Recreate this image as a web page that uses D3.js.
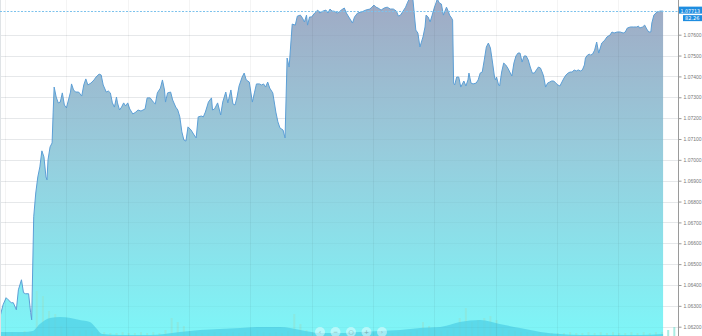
<!DOCTYPE html>
<html>
<head>
<meta charset="utf-8">
<script src="https://cdn.jsdelivr.net/npm/d3@7"></script>
<style>
  html, body { margin: 0; padding: 0; background: #fff; }
  svg { display: block; font-family: "DejaVu Sans", sans-serif; }
</style>
</head>
<body>
<svg id="chart"></svg>
<script>
// price series: [minutes since start, price]
const priceSeries = [
  [0,1.06248],[3,1.06305],[6,1.06339],[8,1.06329],[11,1.06315],[13,1.06315],[16,1.06281],[18,1.06377],[21,1.06425],[23,1.06363],
  [25,1.06358],[28,1.06358],[30,1.06267],[31,1.06233],[33,1.06727],[35,1.06841],[37,1.06918],[39,1.06966],[41,1.07043],[43,1.07014],
  [45,1.06918],[46,1.06904],[47,1.07000],[49,1.07062],[51,1.07081],[52,1.07225],[53,1.07349],[55,1.07301],[57,1.07273],[59,1.07277],
  [61,1.07321],[63,1.07263],[65,1.07249],[67,1.07287],[69,1.07325],[70,1.07364],[72,1.07335],[74,1.07325],[77,1.07325],[80,1.07306],
  [82,1.07359],[84,1.07388],[86,1.07359],[89,1.07368],[92,1.07383],[94,1.07397],[97,1.07411],[99,1.07407],[101,1.07359],[104,1.07325],
  [106,1.07330],[108,1.07321],[110,1.07273],[112,1.07253],[114,1.07301],[115,1.07273],[117,1.07239],[119,1.07253],[121,1.07273],[123,1.07258],
  [125,1.07273],[127,1.07244],[130,1.07220],[133,1.07229],[135,1.07239],[138,1.07234],[142,1.07244],[144,1.07297],[147,1.07297],[150,1.07277],
  [152,1.07268],[154,1.07321],[157,1.07344],[159,1.07383],[161,1.07335],[162,1.07277],[164,1.07321],[167,1.07325],[169,1.07287],[172,1.07253],
  [174,1.07239],[176,1.07206],[178,1.07134],[180,1.07095],[182,1.07090],[184,1.07158],[187,1.07143],[190,1.07119],[192,1.07105],[194,1.07206],
  [197,1.07210],[199,1.07206],[201,1.07229],[204,1.07277],[207,1.07297],[208,1.07239],[210,1.07244],[213,1.07273],[216,1.07215],[218,1.07277],
  [221,1.07325],[223,1.07273],[226,1.07335],[228,1.07268],[230,1.07263],[232,1.07301],[234,1.07354],[237,1.07397],[239,1.07416],[241,1.07383],
  [244,1.07373],[247,1.07277],[249,1.07321],[251,1.07364],[254,1.07364],[256,1.07359],[258,1.07364],[260,1.07349],[262,1.07373],[264,1.07344],
  [267,1.07321],[270,1.07229],[272,1.07182],[274,1.07153],[277,1.07143],[279,1.07105],[281,1.07488],[283,1.07445],[286,1.07651],[289,1.07646],
  [291,1.07689],[294,1.07694],[296,1.07680],[298,1.07661],[300,1.07694],[301,1.07646],[303,1.07685],[305,1.07685],[308,1.07704],[311,1.07718],
  [313,1.07704],[316,1.07713],[319,1.07718],[321,1.07704],[323,1.07723],[325,1.07713],[327,1.07713],[330,1.07704],[332,1.07709],[334,1.07718],
  [337,1.07728],[339,1.07704],[342,1.07680],[345,1.07656],[347,1.07685],[350,1.07704],[354,1.07709],[358,1.07718],[362,1.07723],[364,1.07732],
  [366,1.07742],[368,1.07732],[370,1.07728],[373,1.07718],[376,1.07728],[379,1.07732],[382,1.07723],[385,1.07723],[388,1.07713],[390,1.07689],
  [392,1.07694],[394,1.07709],[397,1.07732],[399,1.07756],[401,1.07776],[404,1.07776],[407,1.07622],[409,1.07608],[411,1.07541],[414,1.07589],
  [416,1.07637],[417,1.07694],[419,1.07685],[421,1.07661],[423,1.07694],[425,1.07728],[427,1.07756],[428,1.07771],[430,1.07752],[432,1.07747],
  [434,1.07694],[437,1.07732],[439,1.07709],[440,1.07694],[442,1.07680],[443,1.07670],[444,1.07368],[445,1.07359],[447,1.07397],[449,1.07397],
  [451,1.07349],[453,1.07368],[454,1.07378],[456,1.07354],[458,1.07383],[459,1.07416],[461,1.07368],[463,1.07364],[466,1.07368],[468,1.07383],
  [470,1.07416],[472,1.07421],[474,1.07479],[476,1.07541],[478,1.07560],[480,1.07536],[482,1.07469],[484,1.07397],[485,1.07383],[486,1.07397],
  [488,1.07359],[489,1.07354],[491,1.07421],[493,1.07464],[495,1.07455],[497,1.07440],[499,1.07421],[501,1.07402],[503,1.07464],[505,1.07498],
  [507,1.07512],[509,1.07512],[511,1.07469],[513,1.07498],[515,1.07498],[517,1.07479],[519,1.07445],[521,1.07416],[523,1.07416],[525,1.07431],
  [527,1.07445],[529,1.07440],[531,1.07416],[532,1.07402],[534,1.07349],[536,1.07368],[538,1.07373],[540,1.07378],[542,1.07378],[544,1.07368],
  [546,1.07359],[548,1.07354],[550,1.07373],[552,1.07392],[554,1.07407],[556,1.07416],[558,1.07421],[560,1.07421],[562,1.07431],[564,1.07426],
  [566,1.07431],[568,1.07426],[570,1.07431],[572,1.07455],[573,1.07488],[575,1.07502],[577,1.07507],[578,1.07502],[580,1.07507],[582,1.07526],
  [584,1.07565],[586,1.07512],[589,1.07560],[592,1.07574],[594,1.07589],[597,1.07598],[599,1.07613],[601,1.07608],[604,1.07613],[607,1.07613],
  [610,1.07608],[612,1.07613],[614,1.07632],[617,1.07637],[620,1.07637],[623,1.07637],[625,1.07641],[626,1.07632],[629,1.07637],[631,1.07646],
  [633,1.07627],[635,1.07613],[637,1.07613],[638,1.07656],[640,1.07694],[643,1.07709],[646,1.07713],[649,1.07713]
]

// volume, one bar every 6 minutes
const volumeStep = 6
const volumes = [
  3,3,4,3,5,4,45,40,25,22,10,8,6,5,6,5,4,4,3,3,4,3,3,4,3,4,3,6,18,14,
  10,5,4,3,3,4,3,3,4,3,4,5,6,4,3,4,3,5,22,12,6,4,4,3,3,3,3,4,3,4,
  3,3,4,3,3,4,3,4,6,14,10,6,5,6,8,18,28,14,16,18,20,16,8,6,5,4,4,3,4,3,
  3,3,3,4,3,3,4,3,4,3,4,3,3,4,3,4,3,4,4,6,9
]

// volume average: [minutes, value]
const volumeAvg = [
  [0,4],[23,4],[32,5],[39,12],[49,18],[59,19],[69,18],[78,16],[88,14],[94,8],[100,2],[117,1],[147,1],[161,2],
  [176,4],[196,6],[215,7],[235,8],[254,9],[274,9],[294,6],[313,3],[333,3],[352,4],[372,5],[392,6],[411,8],
  [431,9],[450,14],[470,16],[489,12],[509,8],[529,4],[548,2],[568,1],[588,1],[607,1],[627,1],[649,2]
]

const priceTicks = [1.062,1.063,1.064,1.065,1.066,1.067,1.068,1.069,1.070,1.071,1.072,1.073,1.074,1.075,1.076]
const lastPrice = 1.07713
const secondLabel = "82.26"
const navButtons = ["\u2039", "\u2212", "\u25CB", "+", "\u203A"]

const width = 702
const height = 336
const plotRight = 678

const start = Date.UTC(2017, 2, 8, 8, 55)
const toDate = m => new Date(start + m * 60000)

const svg = d3.select("#chart")
  .attr("width", width)
  .attr("height", height)

const x = d3.scaleUtc()
  .domain([toDate(0), toDate(663.6)])
  .range([0, plotRight])

const y = d3.scaleLinear()
  .domain([1.062, 1.076])
  .range([326.7, 34.7])

const yVol = d3.scaleLinear()
  .domain([0, 50])
  .range([height, height - 50])

// gradient for the price area
const defs = svg.append("defs")
const grad = defs.append("linearGradient")
  .attr("id", "priceFill")
  .attr("x1", 0).attr("y1", 0).attr("x2", 0).attr("y2", height)
  .attr("gradientUnits", "userSpaceOnUse")
grad.append("stop").attr("offset", "0%").attr("stop-color", "#a0aac4")
grad.append("stop").attr("offset", "45%").attr("stop-color", "#97ccdc")
grad.append("stop").attr("offset", "100%").attr("stop-color", "#7ef6f8")

defs.append("clipPath").attr("id", "plotClip")
  .append("rect").attr("x", 0).attr("y", 0).attr("width", plotRight).attr("height", height)

// horizontal grid
svg.append("g")
  .selectAll("line")
  .data(priceTicks)
  .join("line")
    .attr("x1", 0).attr("x2", plotRight)
    .attr("y1", d => Math.round(y(d)) + 0.5)
    .attr("y2", d => Math.round(y(d)) + 0.5)
    .attr("stroke", "#eceef0")

const plot = svg.append("g").attr("clip-path", "url(#plotClip)")

// price area + line
const area = d3.area()
  .x(d => x(toDate(d[0])))
  .y0(height)
  .y1(d => y(d[1]))

const line = d3.line()
  .x(d => x(toDate(d[0])))
  .y(d => y(d[1]))

plot.append("path")
  .datum(priceSeries)
  .attr("d", area)
  .attr("fill", "url(#priceFill)")

plot.append("path")
  .datum(priceSeries)
  .attr("d", line)
  .attr("fill", "none")
  .attr("stroke", "#5c9fd6")
  .attr("stroke-width", 1)

// volume bars
plot.append("g")
  .selectAll("rect")
  .data(volumes)
  .join("rect")
    .attr("x", (d, i) => x(toDate(i * volumeStep)) - 1)
    .attr("width", 2)
    .attr("y", d => yVol(d))
    .attr("height", d => height - yVol(d))
    .attr("fill", "#8ee6da")
    .attr("opacity", 0.75)

// volume average area
plot.append("path")
  .datum(volumeAvg)
  .attr("d", d3.area()
    .x(d => x(toDate(d[0])))
    .y0(height)
    .y1(d => yVol(d[1]))
    .curve(d3.curveMonotoneX))
  .attr("fill", "#4fd0e6")
  .attr("opacity", 0.75)

// vertical grid (hourly), drawn faintly over the fill
svg.append("g")
  .selectAll("line")
  .data(x.ticks(d3.utcHour.every(1)))
  .join("line")
    .attr("x1", d => Math.round(x(d)) + 0.5)
    .attr("x2", d => Math.round(x(d)) + 0.5)
    .attr("y1", 0).attr("y2", height)
    .attr("stroke", "#000")
    .attr("stroke-opacity", 0.045)

// horizontal grid faint over fill
svg.append("g")
  .selectAll("line")
  .data(priceTicks)
  .join("line")
    .attr("x1", 0).attr("x2", plotRight)
    .attr("y1", d => Math.round(y(d)) + 0.5)
    .attr("y2", d => Math.round(y(d)) + 0.5)
    .attr("stroke", "#000")
    .attr("stroke-opacity", 0.025)

// left border
svg.append("line")
  .attr("x1", 0.5).attr("x2", 0.5).attr("y1", 0).attr("y2", height)
  .attr("stroke", "#dfe3e6")

// current price dashed line
svg.append("line")
  .attr("x1", 0).attr("x2", plotRight)
  .attr("y1", Math.round(y(lastPrice)) + 0.5)
  .attr("y2", Math.round(y(lastPrice)) + 0.5)
  .attr("stroke", "#7cc2ec")
  .attr("stroke-dasharray", "2,1.5")

// right axis
const axis = svg.append("g")
  .attr("transform", `translate(${plotRight + 0.5},0)`)
  .call(d3.axisRight(y)
    .tickValues(priceTicks)
    .tickSize(3)
    .tickPadding(2)
    .tickFormat(d3.format(".5f")))
axis.select(".domain").attr("stroke", "#9a9a9a")
axis.selectAll(".tick line").attr("stroke", "#9a9a9a")
axis.selectAll(".tick text")
  .attr("fill", "#777")
  .style("font-size", "5px")
axis.select(".domain").attr("d", `M0,0V${height}`)

// price label boxes
const yl = y(lastPrice)
svg.append("rect")
  .attr("x", plotRight + 1).attr("y", yl - 4.5)
  .attr("width", width - plotRight - 1).attr("height", 7)
  .attr("fill", "#1e8de0")
svg.append("text")
  .attr("x", plotRight + 2.5).attr("y", yl + 1.4)
  .attr("fill", "#fff")
  .attr("textLength", 19.5)
  .attr("lengthAdjust", "spacingAndGlyphs")
  .style("font-size", "5px")
  .text(d3.format(".5f")(lastPrice))
svg.append("rect")
  .attr("x", plotRight + 5).attr("y", yl + 4)
  .attr("width", width - plotRight - 5).attr("height", 6)
  .attr("fill", "#1e8de0")
svg.append("text")
  .attr("x", plotRight + 7).attr("y", yl + 8.8)
  .attr("fill", "#fff")
  .style("font-size", "5px")
  .text(secondLabel)

// navigation buttons at the bottom
const nav = svg.append("g")
  .selectAll("g")
  .data(navButtons)
  .join("g")
    .attr("transform", (d, i) => `translate(${320 + i * 15.5},332)`)
nav.append("circle")
  .attr("r", 5)
  .attr("fill", "#fff")
  .attr("fill-opacity", 0.45)
nav.append("text")
  .attr("text-anchor", "middle")
  .attr("dy", "0.35em")
  .attr("fill", "#7aa")
  .style("font-size", "6px")
  .text(d => d)
</script>
</body>
</html>
